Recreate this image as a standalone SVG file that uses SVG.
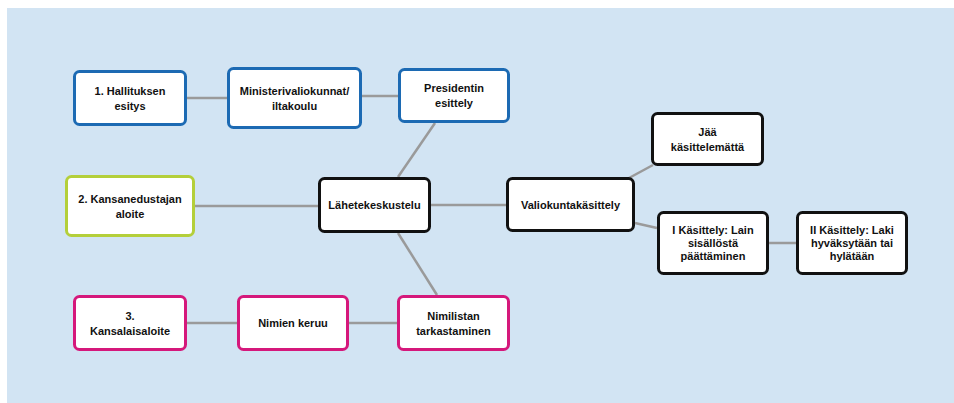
<svg xmlns="http://www.w3.org/2000/svg" width="954" height="403" viewBox="0 0 954 403">
<style>
.bg{fill:#d2e4f3}
.box{fill:#ffffff;stroke-width:3}
.blue{stroke:#1c6ab3}
.green{stroke:#b4cf3a}
.pink{stroke:#d5187b}
.black{stroke:#111111}
.edge{stroke:#9a9a9a;stroke-width:2.5;fill:none}
text{font-family:"Liberation Sans",Arial,sans-serif;font-weight:bold;font-size:11px;fill:#111111;text-anchor:middle}
</style>
<rect x="0" y="0" width="954" height="403" fill="#ffffff"/>
<rect class="bg" x="7" y="8" width="947" height="395"/>
<g id="connectors">
<line class="edge" x1="187" y1="98" x2="227" y2="98"/>
<line class="edge" x1="362" y1="96" x2="398" y2="96"/>
<line class="edge" x1="435" y1="123" x2="398" y2="177"/>
<line class="edge" x1="195" y1="206" x2="318" y2="206"/>
<line class="edge" x1="431" y1="205" x2="506" y2="205"/>
<line class="edge" x1="398" y1="233" x2="437" y2="295"/>
<line class="edge" x1="187" y1="323" x2="237" y2="323"/>
<line class="edge" x1="349" y1="323" x2="397" y2="323"/>
<line class="edge" x1="629" y1="178" x2="653" y2="165"/>
<line class="edge" x1="635" y1="223" x2="657" y2="228"/>
<line class="edge" x1="769" y1="243" x2="796" y2="243"/>
</g>
<g id="n1"><rect class="box blue" x="74.5" y="71.5" width="111" height="53" rx="5"/><text x="130" y="94.5">1. Hallituksen</text><text x="130" y="109.5">esitys</text></g>
<g id="ministerivaliokunnat"><rect class="box blue" x="228.5" y="68.5" width="132" height="59" rx="5"/><text x="294.5" y="94.5">Ministerivaliokunnat/</text><text x="294.5" y="109.5">iltakoulu</text></g>
<g id="presidentin"><rect class="box blue" x="399.5" y="69.5" width="109" height="52" rx="5"/><text x="454" y="92">Presidentin</text><text x="454" y="107">esittely</text></g>
<g id="n2"><rect class="box green" x="66.5" y="176.5" width="127" height="59" rx="5"/><text x="130" y="202.5">2. Kansanedustajan</text><text x="130" y="217.5">aloite</text></g>
<g id="lahetekeskustelu"><rect class="box black" x="319.5" y="178.5" width="110" height="53" rx="5"/><text x="374.5" y="209">Lähetekeskustelu</text></g>
<g id="n3"><rect class="box pink" x="74.5" y="296.5" width="111" height="53" rx="5"/><text x="130" y="319.5">3.</text><text x="130" y="334.5">Kansalaisaloite</text></g>
<g id="nimien"><rect class="box pink" x="238.5" y="296.5" width="109" height="53" rx="5"/><text x="293" y="327">Nimien keruu</text></g>
<g id="nimilistan"><rect class="box pink" x="398.5" y="296.5" width="110" height="53" rx="5"/><text x="453.5" y="319.5">Nimilistan</text><text x="453.5" y="334.5">tarkastaminen</text></g>
<g id="jaa"><rect class="box black" x="652.5" y="113.5" width="110" height="51" rx="5"/><text x="707.5" y="135.5">Jää</text><text x="707.5" y="150.5">käsittelemättä</text></g>
<g id="valiokunta"><rect class="box black" x="507.5" y="178.5" width="126" height="52" rx="5"/><text x="570.5" y="208.5">Valiokuntakäsittely</text></g>
<g id="kasittely1"><rect class="box black" x="658.5" y="212.5" width="109" height="61" rx="5"/><text x="713" y="234">I Käsittely: Lain</text><text x="713" y="247">sisällöstä</text><text x="713" y="260">päättäminen</text></g>
<g id="kasittely2"><rect class="box black" x="797.5" y="212.5" width="109" height="61" rx="5"/><text x="852" y="234">II Käsittely: Laki</text><text x="852" y="247">hyväksytään tai</text><text x="852" y="260">hylätään</text></g>
</svg>
